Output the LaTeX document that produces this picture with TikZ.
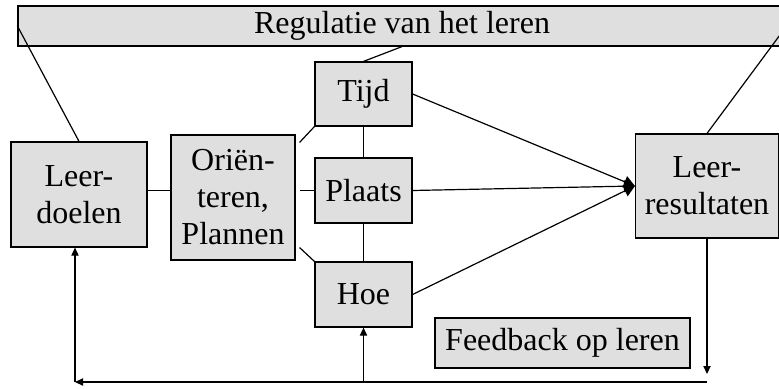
\documentclass[tikz,border=0pt]{standalone}
\usepackage{fontspec}
\setmainfont{Liberation Serif}
\usetikzlibrary{arrows.meta,calc}

\begin{document}
\begin{tikzpicture}[x=0.5pt, y=-0.5pt, line width=0.6pt,
	box/.style={draw, fill=gray!25, align=center, inner sep=0pt, font=\fontsize{16}{18.5}\selectfont},
	tip/.style={-{Triangle[length=4pt,width=3.6pt]}},
	bigtip/.style={-{Triangle[length=5.5pt,width=6pt]}}]
	\useasboundingbox (0,0) rectangle (779,389);

	\node[box, minimum width=384pt, minimum height=20pt] (reg) at (402,26) {Regulatie van het leren};
	\node[box, minimum width=68pt, minimum height=52.5pt] (doelen) at (79,194.5) {Leer-\\doelen};
	\node[box, minimum width=62pt, minimum height=62.5pt] (orient) at (233,197.5) {Oriën-\\teren,\\Plannen};
	\node[box, minimum width=48.5pt, minimum height=32pt] (tijd) at (363.5,94) {Tijd};
	\node[box, minimum width=48.5pt, minimum height=32.5pt] (plaats) at (363.5,190.5) {Plaats};
	\node[box, minimum width=48.5pt, minimum height=32.5pt] (hoe) at (363.5,294.5) {Hoe};
	\node[box, minimum width=71.5pt, minimum height=52pt] (result) at (707,186) {Leer-\\resultaten};
	\node[box, minimum width=127.5pt, minimum height=25pt] (fb) at (562.5,343) {Feedback op leren};

	\draw (reg.west) -- (doelen.north);
	\draw (result.north) -- (reg.east);
	\draw (tijd.north) -- (reg.south);
	\draw (doelen.east |- plaats.west) -- (orient.west |- plaats.west);
	\draw[shorten <=2pt] (orient.east |- plaats.west) -- (plaats.west);
	\draw (tijd.south west) -- ($(orient.north east)+(4,8)$);
	\draw (hoe.north west) -- ($(orient.south east)+(4,-13)$);
	\draw (tijd) -- (plaats);
	\draw (plaats) -- (hoe);

	\draw[bigtip] (tijd.east) -- (result.west);
	\draw[bigtip] (plaats.east) -- (result.west);
	\draw[bigtip] (hoe.east) -- (result.west);

	\coordinate (fbR) at (707,382);
	\coordinate (fbL) at (75,382);
	\draw[tip, shorten >=4pt] (result.south) -- (fbR);
	\draw[tip] (fbR) -- (fbL);
	\draw[tip] (fbL) -- (fbL |- doelen.south);
	\draw[tip] (hoe |- fbL) -- (hoe.south);
\end{tikzpicture}
\end{document}
